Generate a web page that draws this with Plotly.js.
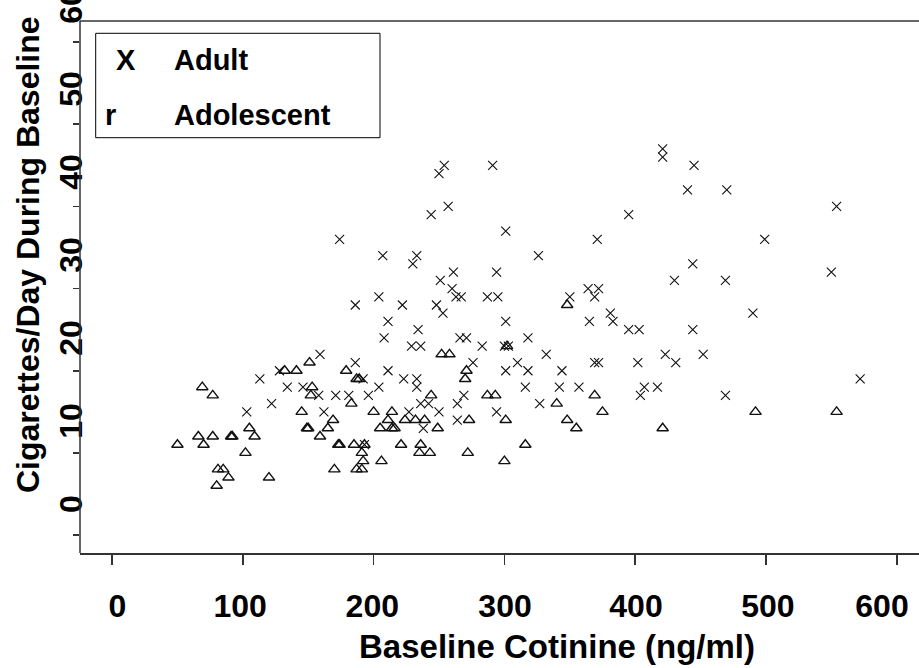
<!DOCTYPE html>
<html>
<head>
<meta charset="utf-8">
<script src="https://cdn.plot.ly/plotly-3.0.1.min.js"></script>
<style>html,body{margin:0;padding:0;background:#fff;}#chart{width:919px;height:668px;}</style>
</head>
<body>
<div id="chart"></div>
<script>
// Adult smokers: baseline cotinine (ng/ml) and cigarettes/day
var adultCotinine = [421,421,445,440,470,395,554,499,444,430,469,550,490,395,403,444,402,423,431,452,572,407,417,404,469,
  254,250,291,257,244,301,371,207,233,230,326,261,294,251,260,263,267,287,295,204,222,248,253,301,211,208,234,229,236,266,271,283,300,303,318,350,364,372,369,365,381,383,276,332,310,301,318,344,369,372,211,192,223,233,233,204,196,316,342,357,269,264,236,242,327,227,250,294,264,238,193,
  103,113,122,128,134,159,146,158,162,171,181,186,186,174];
var adultCigs = [42,41,40,37,37,34,35,31,28,26,26,27,22,20,20,20,16,17,16,17,14,13,13,12,12,
  40,39,40,35,34,32,31,29,29,28,29,27,27,26,25,24,24,24,24,24,23,23,22,21,21,19,20,18,18,19,19,18,18,18,19,24,25,25,24,21,22,21,16,17,16,15,15,15,16,16,15,14,14,14,13,13,12,13,13,13,12,11,11,11,11,10,10,10,9,8,6,
  10,14,11,15,13,17,13,12,10,12,12,16,23,31];

// Adolescent smokers
var adolCotinine = [492,554,421,
  348,252,258,271,270,302,244,287,293,340,369,375,200,214,211,205,214,216,224,232,239,249,273,301,348,355,193,221,236,235,243,272,316,191,206,300,
  69,77,50,66,77,70,91,92,105,109,102,81,85,89,80,120,132,141,151,153,152,145,169,165,149,150,159,183,179,187,189,173,174,185,192,170,187,191];
var adolCigs = [10,10,8,
  23,17,17,15,14,18,12,12,12,11,12,10,10,10,9,8,8,8,9,9,9,8,9,9,9,8,6,6,6,5,5,5,6,5,4,4,
  13,12,6,7,7,6,7,7,8,7,5,3,3,2,1,2,15,15,16,13,12,10,9,8,8,8,7,11,15,14,14,6,6,6,4,3,3,3];

var xTickVals = [0,100,200,300,400,500,600];
var xLabelVals = [4,98,199,300.5,400.6,501.5,588.7];
var xLabelText = ['0','100','200','300','400','500','600'];
var yLabelVals = [-1.8,8.3,18.4,28.5,38.6,48.7,58.8];
var yLabelText = ['0','10','20','30','40','50','60'];
var yMinorVals = [-5,5,15,25,35,45,55];

var W = 919, H = 668, ML = 80, MR = 0, MT = 0, MB = 115;
var PW = W - ML - MR, PH = H - MT - MB;
function px(x){ return (x - ML) / PW; }
function py(y){ return 1 - (y - MT) / PH; }

var tickFont = {family: 'Liberation Sans, Arial, sans-serif', size: 32, color: '#000', weight: 'bold'};
var titleFont = {family: 'Liberation Sans, Arial, sans-serif', size: 33, color: '#000', weight: 'bold'};
var legFont = {family: 'Liberation Sans, Arial, sans-serif', size: 29, color: '#000', weight: 'bold'};

var traces = [
  {x: adultCotinine, y: adultCigs, type: 'scatter', mode: 'markers', name: 'Adult',
   marker: {symbol: 'x-thin-open', size: 9, line: {color: '#111', width: 1.1}, color: '#111'}},
  {x: adolCotinine, y: adolCigs, type: 'scatter', mode: 'markers', name: 'Adolescent',
   marker: {symbol: 'triangle-up-open', size: 10, line: {color: '#111', width: 1.4}, color: '#111'}}
];

var topY = py(21);
var layout = {
  width: W, height: H,
  margin: {l: ML, r: MR, t: MT, b: MB, pad: 0},
  paper_bgcolor: '#fff', plot_bgcolor: '#fff',
  showlegend: false,
  xaxis: {range: [-24.5, 617], showgrid: false, zeroline: false,
    showline: true, linecolor: '#333', linewidth: 1.5,
    ticks: '', tickmode: 'array', tickvals: xLabelVals, ticktext: xLabelText,
    tickfont: tickFont, ticklabelstandoff: 24, ticklabeloverflow: 'allow',
    minor: {tickmode: 'array', tickvals: xTickVals, ticks: 'outside', ticklen: 10, tickwidth: 1.5, tickcolor: '#333', showgrid: false}},
  yaxis: {range: [-7.18, 60.12], showgrid: false, zeroline: false, showline: false,
    ticks: '', tickmode: 'array', tickvals: yLabelVals, ticktext: yLabelText,
    tickangle: -90, tickfont: tickFont, ticklabelstandoff: -9, ticklabeloverflow: 'allow',
    minor: {tickmode: 'array', tickvals: yMinorVals, ticks: 'outside', ticklen: 6, tickwidth: 1.5, tickcolor: '#333', showgrid: false}},
  shapes: [
    {type: 'line', xref: 'paper', yref: 'paper', x0: 0, x1: 0, y0: 0, y1: topY, line: {color: '#333', width: 1.5}},
    {type: 'line', xref: 'paper', yref: 'paper', x0: 0, x1: 1, y0: topY, y1: topY, line: {color: '#333', width: 1.5}},
    {type: 'rect', xref: 'paper', yref: 'paper', x0: px(95.7), x1: px(380), y0: py(137.7), y1: py(33.3), line: {color: '#000', width: 1}}
  ],
  annotations: [
    {text: 'X', xref: 'paper', yref: 'paper', x: px(126), y: py(60), xanchor: 'center', yanchor: 'middle', showarrow: false, font: legFont},
    {text: 'Adult', xref: 'paper', yref: 'paper', x: px(172), y: py(60), xanchor: 'left', yanchor: 'middle', showarrow: false, font: legFont},
    {text: 'r', xref: 'paper', yref: 'paper', x: px(110), y: py(115), xanchor: 'center', yanchor: 'middle', showarrow: false, font: legFont},
    {text: 'Adolescent', xref: 'paper', yref: 'paper', x: px(172), y: py(115), xanchor: 'left', yanchor: 'middle', showarrow: false, font: legFont},
    {text: 'Baseline Cotinine (ng/ml)', xref: 'paper', yref: 'paper', x: px(557), y: py(647), xanchor: 'center', yanchor: 'middle', showarrow: false, font: titleFont},
    {text: 'Cigarettes/Day During Baseline', xref: 'paper', yref: 'paper', x: px(28), y: py(255), xanchor: 'center', yanchor: 'middle', textangle: -90, showarrow: false, font: {family: titleFont.family, size: 32, color: '#000', weight: 'bold'}}
  ]
};

Plotly.newPlot('chart', traces, layout, {staticPlot: true, displayModeBar: false});
</script>
</body>
</html>
